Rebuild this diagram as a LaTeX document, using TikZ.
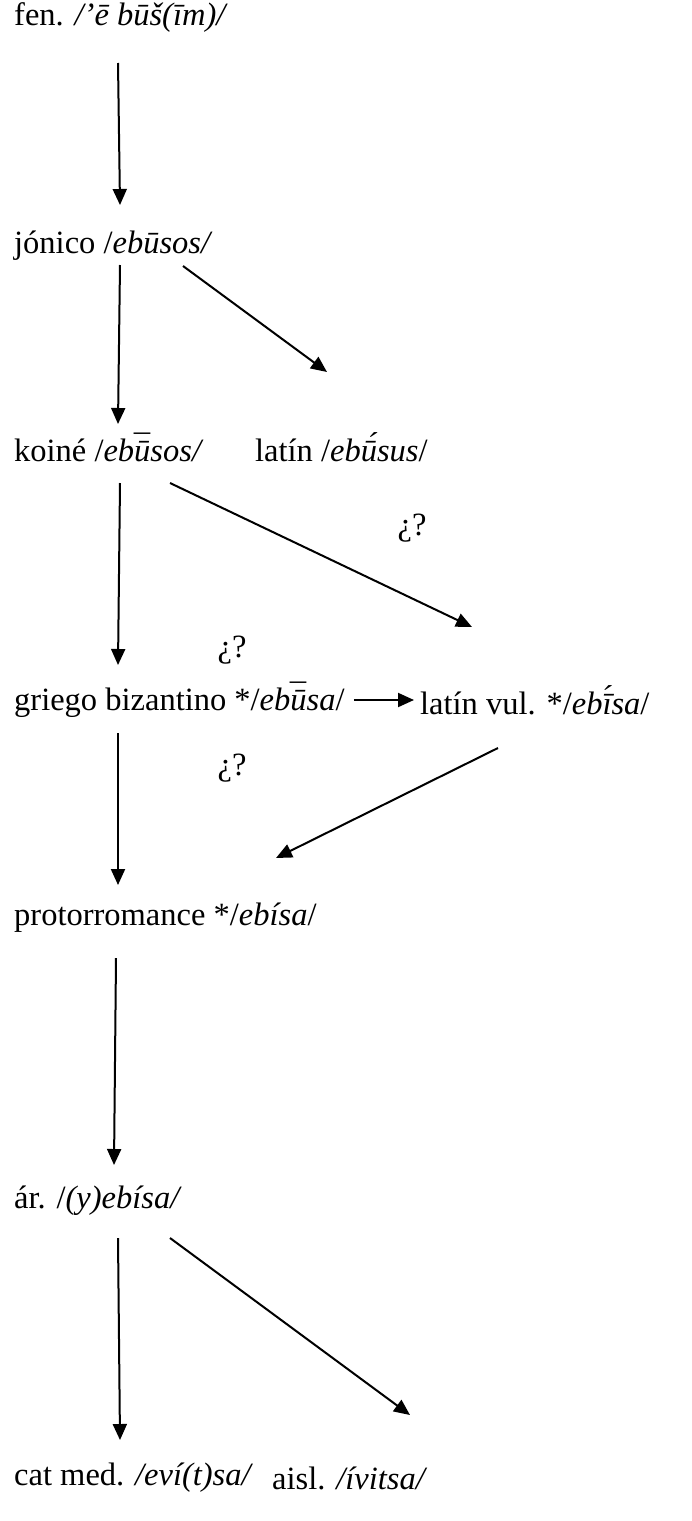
\documentclass[tikz,border=0pt]{standalone}
\usepackage{fontspec}
\setmainfont{Liberation Serif}
\usetikzlibrary{arrows.meta}
\newcommand\dmac{\llap{\raisebox{0.12em}{¯}\kern0.09em}}

\begin{document}
\begin{tikzpicture}[
          x=1pt, y=-1pt,
          form/.style={anchor=west, inner sep=0pt,
                       font=\fontsize{32.5}{37}\selectfont},
          qmark/.style={inner sep=0pt, font=\fontsize{32.5}{37}\selectfont},
          arr/.style={line width=2pt,
                      -{Triangle[length=16pt, width=14pt]}}
        ]
          \useasboundingbox (0,0) rectangle (691,1521);
          \node[form] (fen)   at (14,18)   {fen. \textit{/’ē būš(īm)/}};
          \node[form] (jon)   at (14,246)  {jónico /\textit{ebūsos/}};
          \node[form] (koine) at (14,447)  {koiné /\textit{ebū\dmac sos/}};
          \node[form] (lat)   at (255,447) {latín /\textit{ebū́sus}/};
          \node[form] (griego) at (14,700) {griego bizantino */\textit{ebū\dmac sa}/};
          \node[form] (latvul) at (420,700) {latín vul. */\textit{ebī́sa}/};
          \node[form] (proto) at (14,918)  {protorromance */\textit{ebísa}/};
          \node[form] (ar)    at (14,1201) {ár. /\textit{(y)ebísa/}};
          \node[form] (cat)   at (14,1478) {cat med. \textit{/eví(t)sa/}};
          \node[form] (aisl)  at (272,1478) {aisl. \textit{/ívitsa/}};
          \node[qmark] (q1) at (412,528) {¿?};
          \node[qmark] (q2) at (232,650) {¿?};
          \node[qmark] (q3) at (232,768) {¿?};
          \coordinate (fen-d)    at (118,63);
          \coordinate (jon-u)    at (120,205);
          \coordinate (jon-d)    at (120,265);
          \coordinate (jon-r)    at (183,266);
          \coordinate (koine-u)  at (118,424);
          \coordinate (lat-u)    at (327,372);
          \coordinate (koine-d)  at (120,483);
          \coordinate (koine-r)  at (170,483);
          \coordinate (griego-u) at (118,665);
          \coordinate (latvul-u) at (472,627);
          \coordinate (griego-d) at (118,733);
          \coordinate (latvul-d) at (498,748);
          \coordinate (proto-u)  at (118,885);
          \coordinate (proto-r)  at (276,858);
          \coordinate (proto-d)  at (116,958);
          \coordinate (ar-u)     at (114,1165);
          \coordinate (ar-d)     at (118,1238);
          \coordinate (ar-r)     at (170,1238);
          \coordinate (cat-u)    at (120,1440);
          \coordinate (aisl-u)   at (410,1415);
          \draw[arr] (fen-d)--(jon-u);
          \draw[arr] (jon-d)--(koine-u);
          \draw[arr] (jon-r)--(lat-u);
          \draw[arr] (koine-d)--(griego-u);
          \draw[arr] (koine-r)--(latvul-u);
          \draw[arr] ([xshift=9pt]griego.east)--([xshift=-6pt]latvul.west);
          \draw[arr] (griego-d)--(proto-u);
          \draw[arr] (latvul-d)--(proto-r);
          \draw[arr] (proto-d)--(ar-u);
          \draw[arr] (ar-d)--(cat-u);
          \draw[arr] (ar-r)--(aisl-u);
        \end{tikzpicture}
\end{document}
